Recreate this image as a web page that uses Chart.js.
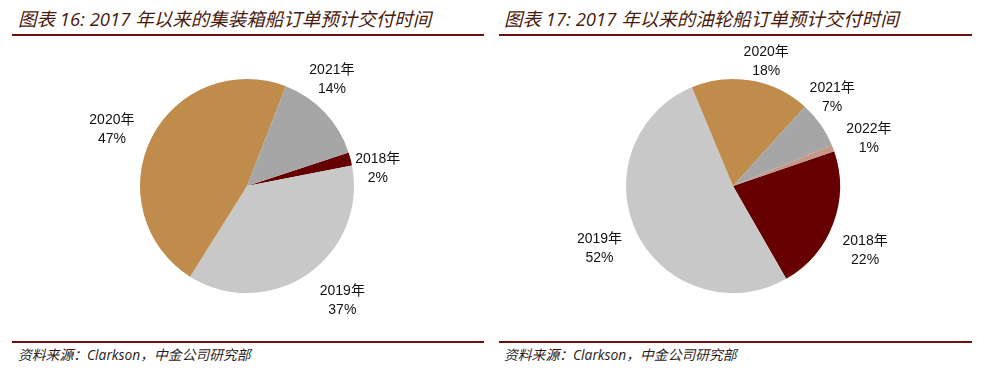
<!DOCTYPE html>
<html>
<head>
<meta charset="utf-8">
<script src="https://cdn.jsdelivr.net/npm/chart.js@4.4.1/dist/chart.umd.min.js"></script>
<style>
  html, body { margin: 0; padding: 0; background: #fff; }
  body { width: 988px; height: 370px; position: relative; overflow: hidden; }
  .title { position: absolute; top: 5px; font-size: 18.5px; font-style: italic; color: #4a1a0c;
           font-family: "Open Sans", "Noto Sans CJK SC", sans-serif; white-space: nowrap; }
  .rule { position: absolute; height: 2px; background: #6b0f0f; }
  .source { position: absolute; top: 344px; font-size: 13.8px; font-style: italic; color: #2a1a20;
            font-family: "Open Sans", "Noto Sans CJK SC", sans-serif; white-space: nowrap; }
  canvas { position: absolute; top: 36px; }
</style>
</head>
<body>
<div class="title" style="left:18px">图表 16: 2017 年以来的集装箱船订单预计交付时间</div>
<div class="title" style="left:504px">图表 17: 2017 年以来的油轮船订单预计交付时间</div>
<div class="rule" style="left:12px; width:472px; top:34px"></div>
<div class="rule" style="left:499px; width:473px; top:34px"></div>
<div class="rule" style="left:12px; width:472px; top:341px"></div>
<div class="rule" style="left:499px; width:473px; top:341px"></div>
<div class="source" style="left:18px">资料来源：Clarkson，中金公司研究部</div>
<div class="source" style="left:504px">资料来源：Clarkson，中金公司研究部</div>
<canvas id="containerChart" width="494" height="300" style="left:0px"></canvas>
<canvas id="tankerChart" width="494" height="300" style="left:486px"></canvas>
<script>
// container ships, share of order book by delivery year (%)
const containerYears = ['2018年', '2019年', '2020年', '2021年'];
const containerShares = [2, 37, 47, 14];
const containerColors = ['#660000', '#c8c8c8', '#bf8c4c', '#a6a6a6'];

// tankers
const tankerYears = ['2018年', '2019年', '2020年', '2021年', '2022年'];
const tankerShares = [22, 52, 18, 7, 1];
const tankerColors = ['#660000', '#c8c8c8', '#bf8c4c', '#a6a6a6', '#c4978a'];

// small hand tweaks so labels sit where Excel's "best fit" put them
const containerNudge = [[-5, 18], [16, -1], [-8, 8], [-20, -7]];
const tankerNudge = [[0, 15], [-6, 0], [10, 10], [-19, -5], [4, 3]];

// draws "year / pct%" outside each slice
const outsideLabels = {
    id: 'outsideLabels',
    afterDatasetsDraw(chart, args, opts) {
        const ctx = chart.ctx;
        const meta = chart.getDatasetMeta(0);
        const values = chart.data.datasets[0].data;
        const lineH = 19;
        ctx.save();
        ctx.font = '14px "Liberation Sans", Arial, "Noto Sans CJK SC", sans-serif';
        ctx.fillStyle = '#111';
        ctx.textAlign = 'center';
        ctx.textBaseline = 'middle';
        meta.data.forEach((arc, i) => {
            const p = arc.getProps(['x', 'y', 'startAngle', 'endAngle', 'outerRadius'], true);
            const mid = (p.startAngle + p.endAngle) / 2;
            const dx = Math.cos(mid), dy = Math.sin(mid);
            const lines = [chart.data.labels[i], values[i] + '%'];
            const w = Math.max(...lines.map(t => ctx.measureText(t).width));
            const h = lineH * 2;
            const edge = Math.min(w / 2 / Math.max(Math.abs(dx), 1e-6), h / 2 / Math.max(Math.abs(dy), 1e-6));
            const dist = p.outerRadius + 10 + edge;
            const nudge = (opts.nudge && opts.nudge[i]) || [0, 0];
            const cx = p.x + dx * dist + nudge[0];
            const cy = p.y + dy * dist + nudge[1];
            ctx.fillText(lines[0], cx, cy - lineH / 2);
            ctx.fillText(lines[1], cx, cy + lineH / 2);
        });
        ctx.restore();
    }
};

function makePie(id, labels, data, colors, rotation, nudge) {
    const ctx = document.getElementById(id).getContext('2d');
    return new Chart(ctx, {
        type: 'pie',
        data: {
            labels,
            datasets: [{
                data,
                backgroundColor: colors,
                borderWidth: 0
            }]
        },
        options: {
            responsive: false,
            animation: false,
            rotation,
            layout: { padding: { top: 43, bottom: 43, left: 0, right: 0 } },
            plugins: {
                legend: { display: false },
                tooltip: { enabled: false },
                outsideLabels: { nudge }
            }
        },
        plugins: [outsideLabels]
    });
}

makePie('containerChart', containerYears, containerShares, containerColors, 71.7, containerNudge);
makePie('tankerChart', tankerYears, tankerShares, tankerColors, 71, tankerNudge);
</script>
</body>
</html>
